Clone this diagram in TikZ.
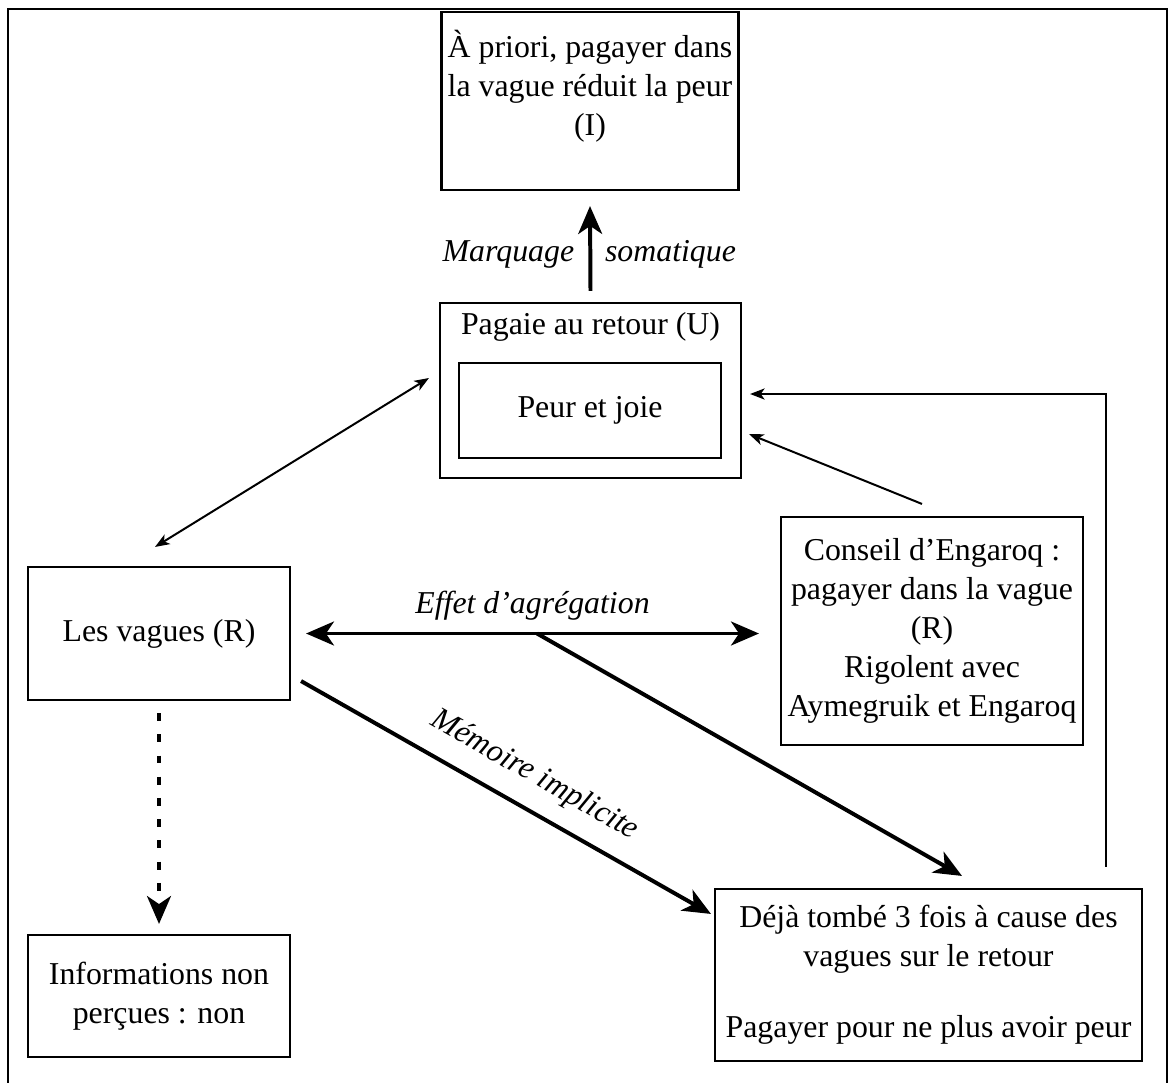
\documentclass[tikz,border=0pt]{standalone}
\usepackage{fontspec}
\setmainfont{Liberation Serif}
\usetikzlibrary{arrows.meta,calc}
\tikzset{
	box/.style       = {draw, line width=0.8pt, align=center, inner sep=2pt},
	sz/.style 2 args = {minimum width=#1*0.377pt, minimum height=#2*0.377pt},
	thickline/.style = {line width=1.5pt, >={Stealth[length=10.5pt,width=9pt,inset=3pt]}},
	thinline/.style  = {line width=0.75pt, >={Stealth[length=5.5pt,width=4.2pt,inset=1.5pt]}},
	outerframe/.style = {line width=1.1pt}
}

\begin{document}
\begin{tikzpicture}[x=0.377pt, y=-0.377pt, font=\fontsize{12}{14.7}\selectfont]
	\useasboundingbox (0,0) rectangle (1168,1082);
	\draw[outerframe] (8,1100) |- (1167,9) -- (1167,1100);

	% boxes
	\node[box, sz={297}{178}] (priori) at (590,101)
		{À priori, pagayer dans\\la vague réduit la peur\\(I)\rule[-14pt]{0pt}{0pt}};
	\node[box, sz={301}{175}] (pagaie) at (590.5,390.5) {};
	\node (retour) at (590.5,327) {Pagaie au retour (U)};
	\node[box, sz={262}{95}] (emotion) at (590,410.5) {Peur et joie};
	\node[box, sz={262}{133}] (vagues) at (159,633.5) {Les vagues (R)};
	\node[box, sz={302}{228}] (conseil) at (932,631)
		{Conseil d’Engaroq :\\pagayer dans la vague\\(R)\\Rigolent avec\\Aymegruik et Engaroq};
	\node[box, sz={262}{122}] (infos) at (159,996) {Informations non\\perçues : non};
	\node[box, sz={427}{172}] (deja) at (928.5,975)
		{Déjà tombé 3 fois à cause des\\vagues sur le retour\\[12pt]Pagayer pour ne plus avoir peur};

	% connectors
	\draw[thickline,->] ($(pagaie.north)+(0,-11)$) -- ($(priori.south)+(0,15)$)
		node[pos=0.43, left=2pt] {\textit{Marquage}}
		node[pos=0.43, right=1.5pt] {\textit{somatique}};
	\draw[thinline,<->] ($(pagaie.west)+(-10,-12.5)$) -- ($(vagues.north)+(-4,-19)$);
	\draw[thinline,->] ($(conseil.north)+(-10,-12)$) -- ($(pagaie.south east)+(7,-45)$);
	\draw[thinline,->] ($(deja.north)+(177.5,-21)$) |- ($(pagaie.east)+(8,3.5)$);
	\draw[thickline,<->] ($(vagues.east)+(15,0)$) -- coordinate[pos=0.51] (split)
		node[midway, above=1pt] {\textit{Effet d’agrégation}}
		($(vagues.east -| conseil.west)+(-21,0)$);
	\draw[thickline,->] (split) -- ($(deja.north)+(33.5,-12)$);
	\draw[thickline,->] ($(vagues.south east)+(10,-20)$) -- ($(deja.north west)+(-3,26)$)
		node[pos=0.53, above=3pt, sloped] {\textit{Mémoire implicite}};
	\draw[thickline,->,dash pattern=on 3pt off 5pt] ($(vagues.south)+(0,12)$)
		-- ($(infos.north)+(0,-10)$);
\end{tikzpicture}
\end{document}
